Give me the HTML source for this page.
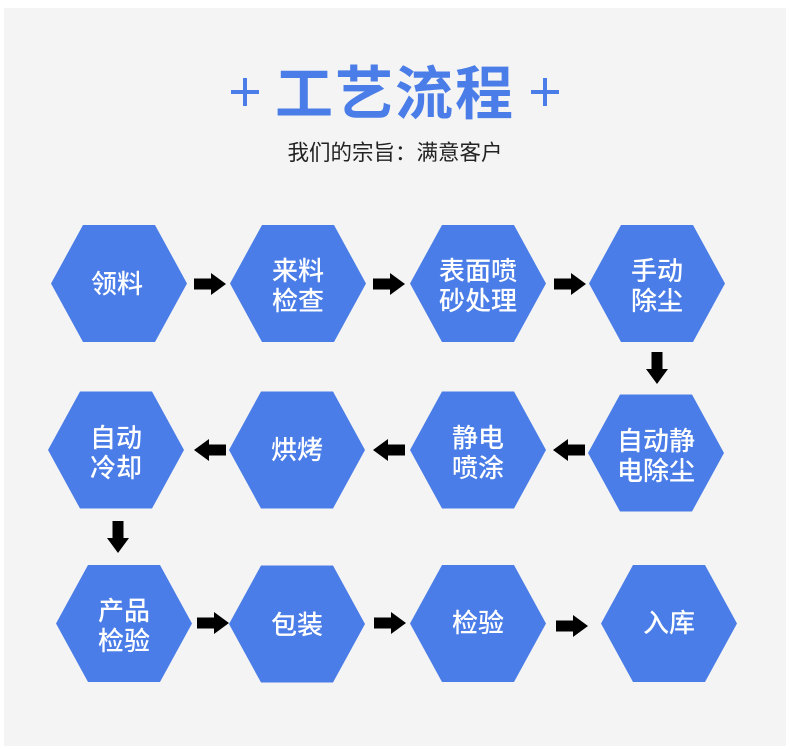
<!DOCTYPE html>
<html><head><meta charset="utf-8"><style>
html,body{margin:0;padding:0;background:#fff}
svg{display:block}
text{font-family:"Liberation Sans","Noto Sans CJK SC",sans-serif}
</style></head><body>
<svg width="790" height="750" viewBox="0 0 790 750" xmlns="http://www.w3.org/2000/svg">
<rect x="0" y="0" width="790" height="750" fill="#fff"/>
<rect x="4" y="8" width="782" height="738" fill="#f4f4f4"/>
<g fill="#4a7de8">
<rect x="231" y="90" width="28" height="4"/><rect x="243" y="78" width="4" height="28"/>
<rect x="531" y="90" width="28" height="4"/><rect x="543" y="78" width="4" height="28"/>
</g>
<text x="395" y="114" font-size="58" font-weight="bold" fill="#4a7de8" text-anchor="middle" letter-spacing="2">工艺流程</text>
<text x="395" y="160" font-size="21.5" fill="#222" text-anchor="middle">我们的宗旨：满意客户</text>
<defs>
<polygon id="h" points="-68,0 -36,-58.5 36,-58.5 68,0 36,58.5 -36,58.5" fill="#4a7de8"/>
<polygon id="ar" points="0,-5.5 17,-5.5 17,-11 32,0 17,11 17,5.5 0,5.5" fill="#000"/>
</defs>
<g>
<use href="#h" x="119" y="283.5"/>
<use href="#h" x="298" y="283.5"/>
<use href="#h" x="478" y="283.5"/>
<use href="#h" x="657" y="283.5"/>
<use href="#h" x="116" y="450"/>
<use href="#h" x="297" y="450"/>
<use href="#h" x="478" y="450"/>
<use href="#h" x="656" y="453"/>
<use href="#h" x="124" y="623.5"/>
<use href="#h" x="297" y="624"/>
<use href="#h" x="478" y="623.5"/>
<use href="#h" x="669" y="623.5"/>
</g>
<g>
<use href="#ar" x="194" y="284"/>
<use href="#ar" x="373" y="284"/>
<use href="#ar" x="554" y="284"/>
<use href="#ar" transform="translate(657,352) rotate(90)"/>
<use href="#ar" transform="translate(585,450) rotate(180)"/>
<use href="#ar" transform="translate(405,450) rotate(180)"/>
<use href="#ar" transform="translate(226,450) rotate(180)"/>
<use href="#ar" transform="translate(118,521) rotate(90)"/>
<use href="#ar" transform="translate(197,623)"/>
<use href="#ar" transform="translate(374,623)"/>
<use href="#ar" transform="translate(556,626)"/>
</g>
<g fill="#fff" font-size="26" font-weight="500" text-anchor="middle">
<text x="117" y="293">领料</text>
<text x="298" y="280">来料</text><text x="298" y="310">检查</text>
<text x="478" y="280">表面喷</text><text x="478" y="310">砂处理</text>
<text x="657" y="280">手动</text><text x="657" y="310">除尘</text>
<text x="116" y="447">自动</text><text x="116" y="477">冷却</text>
<text x="297" y="459">烘烤</text>
<text x="478" y="447">静电</text><text x="478" y="477">喷涂</text>
<text x="656" y="450">自动静</text><text x="656" y="480">电除尘</text>
<text x="124" y="620">产品</text><text x="124" y="650">检验</text>
<text x="297" y="634">包装</text>
<text x="478" y="632">检验</text>
<text x="669" y="632">入库</text>
</g>
</svg>
</body></html>
